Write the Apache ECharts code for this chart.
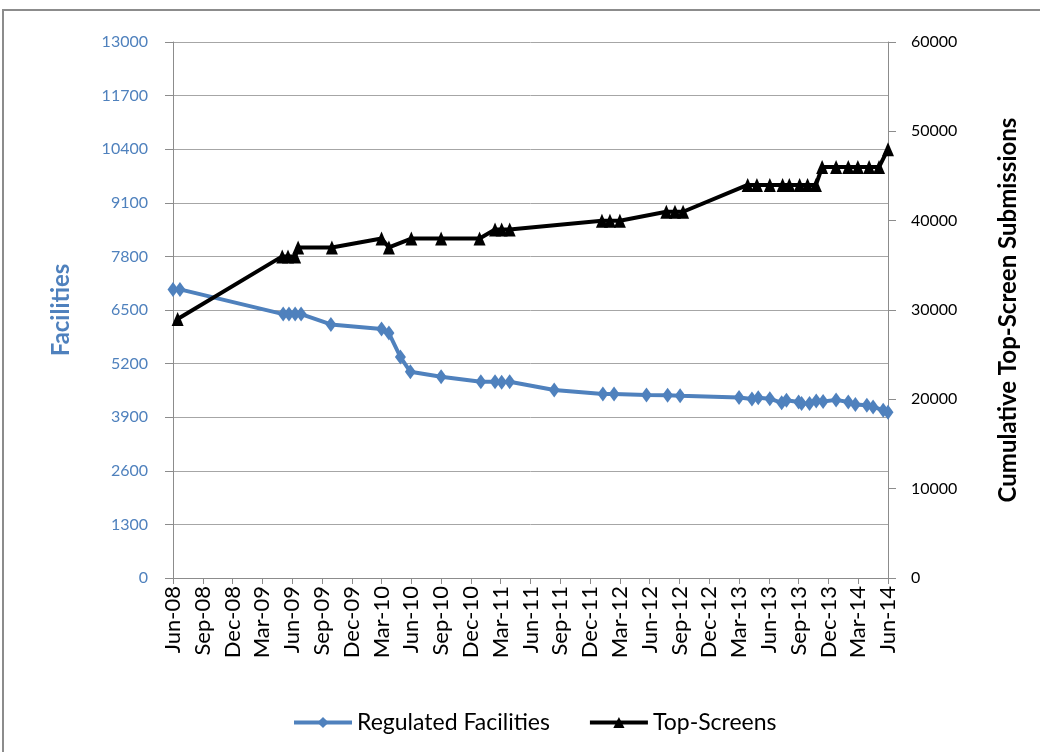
<!DOCTYPE html>
<html>
<head>
<meta charset="utf-8">
<script src="https://cdn.jsdelivr.net/npm/echarts@6/dist/echarts.min.js"></script>
<style>
  html, body { margin: 0; padding: 0; background: #fff; }
  #chart { width: 1040px; height: 752px; }
</style>
</head>
<body>
<div id="chart"></div>
<script>
// tick labels on the date axis, one every 3 months
const tickLabels = [
  'Jun-08', 'Sep-08', 'Dec-08', 'Mar-09', 'Jun-09', 'Sep-09', 'Dec-09',
  'Mar-10', 'Jun-10', 'Sep-10', 'Dec-10', 'Mar-11', 'Jun-11', 'Sep-11',
  'Dec-11', 'Mar-12', 'Jun-12', 'Sep-12', 'Dec-12', 'Mar-13', 'Jun-13',
  'Sep-13', 'Dec-13', 'Mar-14', 'Jun-14'
]

// Regulated Facilities (left axis)
const facilityDates = [
  '2008-06-01', '2008-06-22', '2009-05-04', '2009-05-22', '2009-06-10', '2009-06-28',
  '2009-09-28', '2010-03-01', '2010-03-24', '2010-04-28', '2010-05-29', '2010-09-01',
  '2011-01-01', '2011-02-13', '2011-03-04', '2011-03-29', '2011-08-13', '2012-01-10',
  '2012-02-13', '2012-05-22', '2012-07-26', '2012-09-03', '2013-03-01', '2013-04-10',
  '2013-04-29', '2013-06-04', '2013-07-10', '2013-07-25', '2013-09-01', '2013-09-10',
  '2013-10-04', '2013-10-25', '2013-11-15', '2013-12-25', '2014-02-01', '2014-02-21',
  '2014-03-28', '2014-04-16', '2014-05-17', '2014-06-01'
]
const facilityCounts = [
  7000, 7000, 6400, 6400, 6400, 6400,
  6150, 6040, 5940, 5360, 5000, 4880,
  4760, 4760, 4750, 4760, 4560, 4460,
  4460, 4440, 4430, 4420, 4380, 4340,
  4370, 4350, 4250, 4310, 4270, 4230,
  4230, 4290, 4280, 4320, 4270, 4210,
  4190, 4150, 4070, 4020
]

// Top-Screens (right axis)
const screenDates = [
  '2008-06-15', '2009-05-01', '2009-05-19', '2009-06-10', '2009-06-19', '2009-10-01',
  '2010-03-01', '2010-03-24', '2010-06-01', '2010-09-01', '2010-12-28', '2011-02-13',
  '2011-03-04', '2011-03-29', '2012-01-07', '2012-02-01', '2012-03-01', '2012-07-22',
  '2012-08-18', '2012-09-12', '2013-03-28', '2013-04-25', '2013-06-04', '2013-07-13',
  '2013-08-03', '2013-09-04', '2013-09-28', '2013-10-24', '2013-11-12', '2013-12-25',
  '2014-02-01', '2014-02-28', '2014-04-04', '2014-05-04', '2014-06-01'
]
const screenTotals = [
  29000, 36000, 36000, 36000, 37000, 37000,
  38000, 37000, 38000, 38000, 38000, 39000,
  39000, 39000, 40000, 40000, 40000, 41000,
  41000, 41000, 44000, 44000, 44000, 44000,
  44000, 44000, 44000, 44000, 46000, 46000,
  46000, 46000, 46000, 46000, 48000
]

// months since Jun 2008, fractional
function monthPos(s) {
  const [y, m, d] = s.split('-').map(Number)
  const days = new Date(y, m, 0).getDate()
  return (y - 2008) * 12 + (m - 6) + (d - 1) / days
}

const blue = '#4F81BD'
const font = 'Lato, "Open Sans", sans-serif'
const plain = (v) => String(v)

const chart = echarts.init(document.getElementById('chart'))
chart.setOption({
  animation: false,
  backgroundColor: '#fff',
  graphic: [{
    type: 'rect',
    shape: { x: 3, y: 10, width: 1100, height: 800 },
    style: { fill: 'none', stroke: '#8c8c8c', lineWidth: 2 },
    silent: true
  }],
  grid: { left: 173, right: 152, top: 42, bottom: 174 },
  legend: {
    left: 287,
    top: 706,
    itemWidth: 58,
    itemHeight: 14,
    itemGap: 38,
    lineStyle: { width: 4 },
    textStyle: { fontFamily: font, fontSize: 23, color: '#000' },
    data: ['Regulated Facilities', 'Top-Screens']
  },
  xAxis: {
    type: 'value',
    min: 0,
    max: 72,
    interval: 3,
    splitLine: { show: false },
    axisLine: { lineStyle: { color: '#8c8c8c', width: 1 } },
    axisTick: { length: 6, lineStyle: { color: '#8c8c8c' } },
    axisLabel: {
      rotate: 90,
      margin: 8,
      color: '#000',
      fontFamily: font,
      fontSize: 22,
      formatter: (v) => tickLabels[Math.round(v / 3)] || ''
    }
  },
  yAxis: [
    {
      type: 'value',
      min: 0,
      max: 13000,
      interval: 1300,
      name: 'Facilities',
      nameLocation: 'middle',
      nameGap: 100,
      nameTextStyle: { color: blue, fontFamily: font, fontSize: 24, fontWeight: 'bold' },
      axisLine: { show: true, lineStyle: { color: '#8c8c8c' } },
      axisTick: { show: true, length: 8, lineStyle: { color: '#8c8c8c' } },
      axisLabel: { color: blue, fontFamily: font, fontSize: 16, margin: 25, formatter: plain },
      splitLine: { lineStyle: { color: '#a6a6a6', width: 1 } }
    },
    {
      type: 'value',
      min: 0,
      max: 60000,
      interval: 10000,
      position: 'right',
      name: 'Cumulative Top-Screen Submissions',
      nameLocation: 'middle',
      nameGap: 108,
      nameTextStyle: { color: '#000', fontFamily: font, fontSize: 24, fontWeight: 'bold' },
      axisLine: { show: true, lineStyle: { color: '#8c8c8c' } },
      axisTick: { show: true, length: 8, lineStyle: { color: '#8c8c8c' } },
      axisLabel: { color: '#000', fontFamily: font, fontSize: 16, margin: 23, formatter: plain },
      splitLine: { show: false }
    }
  ],
  series: [
    {
      name: 'Regulated Facilities',
      type: 'line',
      yAxisIndex: 0,
      symbol: 'diamond',
      symbolSize: [11, 15],
      lineStyle: { color: blue, width: 4 },
      itemStyle: { color: blue },
      data: facilityDates.map((d, i) => [monthPos(d), facilityCounts[i]])
    },
    {
      name: 'Top-Screens',
      type: 'line',
      yAxisIndex: 1,
      symbol: 'triangle',
      symbolSize: [12, 14],
      lineStyle: { color: '#000', width: 4 },
      itemStyle: { color: '#000' },
      data: screenDates.map((d, i) => [monthPos(d), screenTotals[i]])
    }
  ]
})
</script>
</body>
</html>
